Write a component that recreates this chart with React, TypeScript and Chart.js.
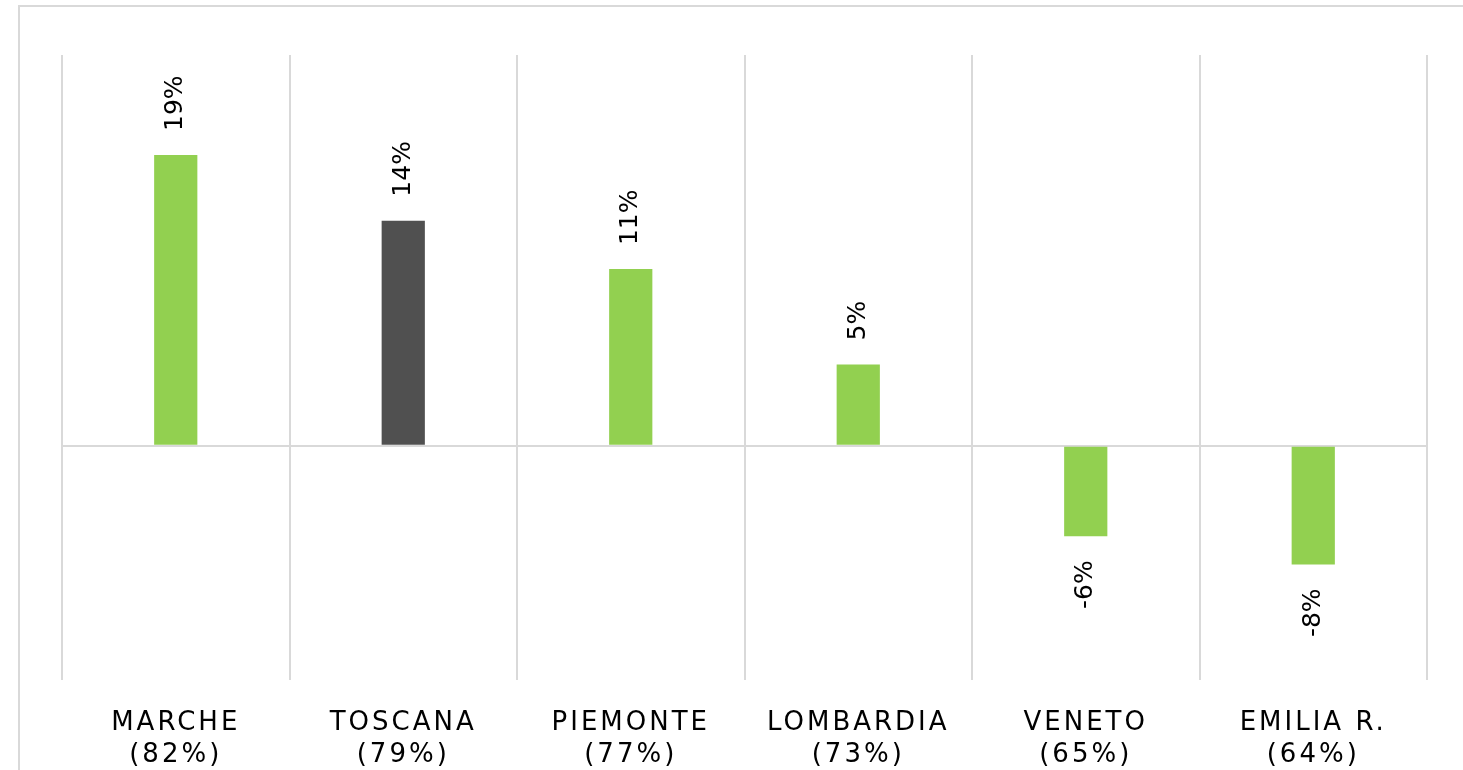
import React, { useEffect, useRef } from "react";
import { Chart, registerables } from "chart.js";

Chart.register(...registerables);

const regions: string[] = ["MARCHE", "TOSCANA", "PIEMONTE", "LOMBARDIA", "VENETO", "EMILIA R."];
const shares: string[] = ["(82%)", "(79%)", "(77%)", "(73%)", "(65%)", "(64%)"];
const changes: number[] = [18.6, 14.4, 11.3, 5.2, -5.8, -7.6];
const valueLabels: string[] = ["19%", "14%", "11%", "5%", "-6%", "-8%"];
const barColors: string[] = ["#92D050", "#505050", "#92D050", "#92D050", "#92D050", "#92D050"];
const yMin = -15;
const yMax = 25;

const FONT = "'DejaVu Sans', Verdana, sans-serif";

const labelPlugin = {
  id: "valueLabels",
  beforeDraw(chart: any) {
    chart.ctx.letterSpacing = "3px";
  },
  beforeDatasetsDraw(chart: any) {
    chart.ctx.letterSpacing = "0px";
  },
  afterDatasetsDraw(chart: any) {
    const ctx = chart.ctx;
    const meta = chart.getDatasetMeta(0);
    ctx.save();
    ctx.letterSpacing = "0px";
    ctx.font = `25px ${FONT}`;
    ctx.fillStyle = "#000000";
    ctx.textBaseline = "middle";
    meta.data.forEach((bar: any, i: number) => {
      const v = changes[i];
      const gap = 24;
      ctx.save();
      if (v >= 0) {
        ctx.translate(bar.x, Math.min(bar.y, bar.base) - gap);
        ctx.rotate(-Math.PI / 2);
        ctx.textAlign = "left";
      } else {
        ctx.translate(bar.x, Math.max(bar.y, bar.base) + gap);
        ctx.rotate(-Math.PI / 2);
        ctx.textAlign = "right";
      }
      ctx.fillText(valueLabels[i], 0, 0);
      ctx.restore();
    });
    ctx.restore();
  },
};

export default function App() {
  const canvasRef = useRef<HTMLCanvasElement | null>(null);

  useEffect(() => {
    if (!canvasRef.current) return;
    const chart = new Chart(canvasRef.current, {
      type: "bar",
      data: {
        labels: regions.map((r, i) => [r, shares[i]]),
        datasets: [
          {
            data: changes,
            backgroundColor: barColors,
            borderWidth: 0,
            barPercentage: 0.19,
            categoryPercentage: 1,
          },
        ],
      },
      options: {
        animation: false,
        responsive: false,
        maintainAspectRatio: false,
        layout: { padding: { left: 62, right: 36, top: 55, bottom: 2 } },
        plugins: { legend: { display: false }, tooltip: { enabled: false } },
        scales: {
          x: {
            offset: true,
            border: { display: false },
            afterFit: (scale: any) => {
              scale.height = 88;
            },
            grid: {
              offset: true,
              drawTicks: false,
              color: "#d9d9d9",
              lineWidth: 2,
            },
            ticks: {
              padding: 28,
              color: "#000000",
              font: { family: FONT, size: 26, lineHeight: 1.2 },
              maxRotation: 0,
              autoSkip: false,
            },
          },
          y: {
            min: yMin,
            max: yMax,
            border: { display: false },
            grid: {
              drawTicks: false,
              lineWidth: 2,
              color: (c: any) => (c.tick && c.tick.value === 0 ? "#d9d9d9" : "rgba(0,0,0,0)"),
            },
            ticks: { display: false, stepSize: 5 },
          },
        },
      },
      plugins: [labelPlugin],
    });
    return () => chart.destroy();
  }, []);

  return (
    <div
      style={{
        position: "fixed",
        left: 0,
        top: 0,
        width: 1463,
        height: 770,
        overflow: "hidden",
        background: "#ffffff",
      }}
    >
      <div
        style={{
          position: "absolute",
          left: 18,
          top: 5,
          width: 1600,
          height: 900,
          border: "2px solid #d9d9d9",
          boxSizing: "border-box",
        }}
      />
      <canvas
        ref={canvasRef}
        width={1463}
        height={770}
        style={{ position: "absolute", left: 0, top: 0, width: 1463, height: 770 }}
      />
    </div>
  );
}
